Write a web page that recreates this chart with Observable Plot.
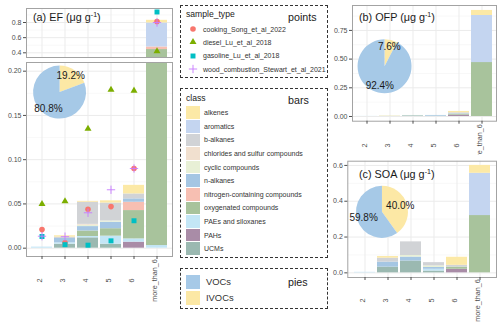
<!DOCTYPE html>
<html><head><meta charset="utf-8">
<script src="https://cdn.jsdelivr.net/npm/d3@7"></script>
<script src="https://cdn.jsdelivr.net/npm/@observablehq/plot@0.6"></script>
<style>
body{margin:0;background:#fff;font-family:"Liberation Sans",Arial,sans-serif;}
#root{position:relative;width:500px;height:326px;overflow:hidden;background:#fff;}
#root > svg, #root > div{position:absolute;}
.box{border:1px dashed #333;box-sizing:border-box;}
.t{position:absolute;white-space:nowrap;line-height:1;color:#1a1a1a;}
</style></head><body><div id="root"></div>
<script>
// ---------------- data ----------------
const categories = ["2","3","4","5","6","more_than_6"];
const classes = ["alkenes","aromatics","b-alkanes","chlorides and sulfur compounds","cyclic compounds","n-alkanes","nitrogen-containing compounds","oxygenated compounds","PAEs and siloxanes","PAHs","UCMs"];
const classColors = ["#fce9a6","#c4d5f0","#d1d3d6","#f1e0cf","#e8f0d6","#a5c6e3","#f7bfb2","#a8c39c","#c3e6f6","#a98ca7","#9bb9b1"];
const sampleTypes = ["cooking_Song_et_al_2022","diesel_Lu_et_al_2018","gasoline_Lu_et_al_2018","wood_combustion_Stewart_et_al_2021"];
const sampleColors = ["#F8766D","#7CAE00","#00BFC4","#C77CFF"];
const sampleSymbols = ["circle","triangle","square","plus"];

// EF points (µg g-1) by category
const efCooking  = [0.021, 0.006, 0.044, 0.047, 0.090, 0.813];
const efDiesel   = [0.050, 0.053, 0.135, 0.179, 0.178, 0.420];
const efGasoline = [0.0132,0.004, 0.0034,0.0083,0.031, 0.939];
const efWood     = [0.0135,0.013, 0.040, 0.066, 0.090, 0.800];

// stacked bars: rows = classes (same order as `classes`), columns = categories
const efBars = [
  [0,      0.0015, 0.001,  0.0025, 0.0097, 0.035],
  [0,      0,      0,      0,      0,      0.317],
  [0,      0.0015, 0.025,  0.0203, 0.0056, 0],
  [0,      0,      0.001,  0,      0,      0],
  [0,      0,      0.0015, 0.0014, 0,      0],
  [0,      0.005,  0.005,  0.0073, 0.0038, 0],
  [0,      0,      0,      0,      0.0094, 0.034],
  [0,      0,      0.0062, 0.0084, 0.032,  0.44],
  [0.0012, 0.0015, 0.0015, 0.0091, 0.0037, 0.003],
  [0,      0,      0,      0,      0.0068, 0],
  [0,      0.0045, 0.0117, 0.0045, 0,      0]
];
const ofpBars = [
  [0,     0.002, 0,     0,     0.012, 0.044],
  [0,     0,     0,     0,     0,     0.41],
  [0,     0,     0,     0,     0.008, 0],
  [0,     0,     0,     0,     0,     0],
  [0,     0.002, 0.001, 0,     0,     0],
  [0,     0,     0.002, 0.006, 0.004, 0],
  [0,     0,     0,     0,     0,     0],
  [0,     0,     0.002, 0.001, 0.008, 0.47],
  [0.001, 0,     0,     0.001, 0,     0],
  [0,     0,     0,     0,     0.012, 0],
  [0,     0.001, 0.004, 0.001, 0,     0]
];
const soaBars = [
  [0,     0.009, 0,     0,     0.045, 0.044],
  [0,     0,     0,     0,     0,     0.236],
  [0,     0.022, 0.076, 0.018, 0.010, 0],
  [0,     0,     0,     0,     0,     0],
  [0,     0,     0.009, 0.009, 0,     0],
  [0,     0.028, 0.022, 0.010, 0,     0],
  [0,     0,     0,     0,     0,     0],
  [0,     0,     0,     0,     0.012, 0.32],
  [0.003, 0,     0,     0.010, 0,     0],
  [0,     0,     0,     0,     0.020, 0],
  [0,     0.032, 0.066, 0.010, 0,     0]
];

// pies: [IVOCs, VOCs] percentages
const pieGroups = ["IVOCs","VOCs"];
const pieColors = ["#fce8a5","#a6c9e7"];
const efPie  = [19.2, 80.8];
const ofpPie = [7.6, 92.4];
const soaPie = [40.0, 59.8];

// axis ticks
const efTopTicks = [0.4, 0.6, 0.8];
const efTopMinor = [0.5, 0.7, 0.9];
const efBotTicks = [0, 0.05, 0.10, 0.15, 0.20];
const efBotMinor = [0.025, 0.075, 0.125, 0.175];
const ofpTicks = [0, 0.25, 0.5, 0.75];
const ofpMinor = [0.125, 0.375, 0.625, 0.875];
const soaTicks = [0, 0.2, 0.4, 0.6];
const soaMinor = [0.1, 0.3, 0.5];

// ---------------- helpers ----------------
const FONT = '"Liberation Sans", Arial, sans-serif';
const root = document.getElementById("root");

function barRows(matrix) {
  const out = [];
  for (let c = classes.length - 1; c >= 0; c--)
    categories.forEach((cat, j) => out.push({cat, cls: classes[c], value: matrix[c][j]}));
  return out;
}
function pointRows() {
  const series = [efCooking, efDiesel, efGasoline, efWood];
  return series.map((arr, s) => categories.map((cat, j) => ({cat, value: arr[j], s})));
}

function pieMark(values, fx, fy, r) {
  return (index, scales, vals, dims) => {
    const {width, height, marginLeft, marginRight, marginTop, marginBottom} = dims;
    const cx = marginLeft + fx * (width - marginLeft - marginRight);
    const cy = marginTop + fy * (height - marginTop - marginBottom);
    const g = d3.create("svg:g").attr("transform", `translate(${cx},${cy})`);
    const arcs = d3.pie().sort(null)(values);
    const arc = d3.arc().innerRadius(0).outerRadius(r);
    const lab = d3.arc().innerRadius(r * 0.74).outerRadius(r * 0.74);
    g.selectAll("path").data(arcs).join("path")
      .attr("d", arc).attr("fill", (d, i) => pieColors[i]);
    g.selectAll("text").data(arcs).join("text")
      .attr("transform", d => `translate(${lab.centroid(d)})`)
      .attr("text-anchor", "middle").attr("dy", "0.35em")
      .attr("font-size", 10).attr("fill", "#1a1a1a")
      .text(d => d.data.toFixed(1) + "%");
    return g.node();
  };
}

function panel(o) {
  const marks = [
    Plot.gridY(o.minor, {stroke: "#f3f3f3", strokeOpacity: 1, strokeWidth: 0.6}),
    Plot.gridY(o.ticks, {stroke: "#ebebeb", strokeOpacity: 1, strokeWidth: 1}),
    Plot.gridX({stroke: "#ebebeb", strokeOpacity: 1, strokeWidth: 1}),
    Plot.barY(barRows(o.bars), {x: "cat", y: "value", fill: "cls", clip: true})
  ];
  if (o.points) {
    pointRows().forEach((rows, s) => {
      const sym = sampleSymbols[s];
      const stroked = sym === "plus";
      marks.push(Plot.dot(rows, {
        x: "cat", y: "value", symbol: () => sym,
        r: sym === "triangle" ? 2.6 : 2.8,
        fill: stroked ? "none" : sampleColors[s],
        stroke: stroked ? sampleColors[s] : "none",
        strokeWidth: 0.9, clip: true
      }));
    });
  }
  if (o.pie) marks.push(pieMark(o.pie.values, o.pie.fx, o.pie.fy, o.pie.r));
  marks.push(Plot.frame({stroke: "#a3a3a3", strokeWidth: 1}));
  marks.push(Plot.axisY(o.ticks, {tickSize: 3, tickPadding: 2, fontSize: 7, tickFormat: d3.format(o.fmt), label: null}));
  if (o.showX) {
    marks.push(Plot.axisX({tickSize: 3, tickFormat: () => "", label: null}));
    marks.push(Plot.text(categories, {x: d => d, text: d => d, frameAnchor: "bottom", dy: o.labelDy,
      rotate: -90, textAnchor: "middle", fontSize: 7.2, fill: "#4d4d4d"}));
  }
  const svg = Plot.plot({
    width: o.width, height: o.height,
    marginLeft: o.ml, marginRight: o.mr, marginTop: o.mt, marginBottom: o.mb,
    x: {type: "band", domain: categories, paddingInner: 0.1, paddingOuter: 0.15, axis: o.showX ? undefined : null},
    y: {domain: o.yDomain, axis: undefined},
    color: {domain: classes, range: classColors},
    style: {fontFamily: FONT, color: "#4d4d4d", background: "transparent", overflow: "hidden"},
    marks
  });
  svg.style.left = o.left + "px";
  svg.style.top = o.top + "px";
  root.appendChild(svg);
}

// ---------------- panels ----------------
panel({left: 0, top: 0, width: 175, height: 60, ml: 26, mr: 3, mt: 8, mb: 3,
  yDomain: [0.338, 0.985], ticks: efTopTicks, minor: efTopMinor, fmt: ".1f",
  bars: efBars, points: true, showX: false});
panel({left: 0, top: 60, width: 175, height: 250, ml: 26, mr: 3, mt: 2, mb: 54,
  yDomain: [-0.0094, 0.2098], ticks: efBotTicks, minor: efBotMinor, fmt: ".2f",
  bars: efBars, points: true, showX: true, labelDy: 24,
  pie: {values: efPie, fx: 0.23, fy: 0.155, r: 26.5}});
panel({left: 330, top: 0, width: 170, height: 155, ml: 22, mr: 4, mt: 5, mb: 34.3,
  yDomain: [-0.041, 0.967], ticks: ofpTicks, minor: ofpMinor, fmt: ".2f",
  bars: ofpBars, points: false, showX: true, labelDy: 24.3,
  pie: {values: ofpPie, fx: 0.226, fy: 0.53, r: 27}});
panel({left: 330, top: 155, width: 170, height: 171, ml: 17.3, mr: 4, mt: 5.7, mb: 49,
  yDomain: [-0.026, 0.6235], ticks: soaTicks, minor: soaMinor, fmt: ".1f",
  bars: soaBars, points: false, showX: true, labelDy: 23,
  pie: {values: soaPie, fx: 0.233, fy: 0.44, r: 26}});

// ---------------- titles ----------------
function addText(html, left, cy, size, extra) {
  const d = document.createElement("div");
  d.className = "t";
  d.innerHTML = html;
  d.style.left = left + "px";
  d.style.top = (cy - size / 2) + "px";
  d.style.fontSize = size + "px";
  if (extra) Object.assign(d.style, extra);
  root.appendChild(d);
  return d;
}
const sup = '<sup style="font-size:0.65em;vertical-align:0.55em;line-height:0">-1</sup>';
addText(`(a) EF (μg g${sup})`, 33, 17, 10.8);
addText(`(b) OFP (μg g${sup})`, 359, 17, 10.8);
addText(`(c) SOA (μg g${sup})`, 359, 174.5, 10.8);

// ---------------- legends ----------------
function box(left, top, w, h) {
  const d = document.createElement("div");
  d.className = "box";
  Object.assign(d.style, {left: left + "px", top: top + "px", width: w + "px", height: h + "px"});
  root.appendChild(d);
}
// points legend
box(180, 5, 148, 73);
addText("sample_type", 186, 14, 8.6);
addText("points", 288, 17.5, 10.7);
sampleTypes.forEach((name, i) => {
  const cy = 29 + i * 13.45;
  const s = d3.create("svg").attr("width", 12).attr("height", 12)
    .style("left", (193 - 6) + "px").style("top", (cy - 6) + "px");
  const sym = {circle: d3.symbolCircle, triangle: d3.symbolTriangle, square: d3.symbolSquare, plus: d3.symbolPlus}[sampleSymbols[i]];
  const r = sampleSymbols[i] === "triangle" ? 2.6 : 2.8;
  const p = s.append("path").attr("transform", "translate(6,6)")
    .attr("d", d3.symbol(sym, Math.PI * r * r)());
  if (sampleSymbols[i] === "plus") p.attr("fill", "none").attr("stroke", sampleColors[i]).attr("stroke-width", 0.9);
  else p.attr("fill", sampleColors[i]);
  root.appendChild(s.node());
  addText(name, 203, cy, 7, {color: "#333"});
});
// bars legend
box(180, 88, 148, 170);
addText("class", 186, 98, 8.6);
addText("bars", 288, 100.5, 10.7);
classes.forEach((name, i) => {
  const cy = 112.7 + i * 13.6;
  const k = document.createElement("div");
  Object.assign(k.style, {left: "186px", top: (cy - 6.3) + "px", width: "14px", height: "12.6px", background: classColors[i]});
  root.appendChild(k);
  addText(name, 204, cy, 7, {color: "#333"});
});
// pies legend
box(180, 268, 148, 40.5);
addText("pies", 288, 282, 10.7);
["VOCs","IVOCs"].forEach((name, i) => {
  const cy = 281.7 + i * 16;
  const k = document.createElement("div");
  Object.assign(k.style, {left: "186px", top: (cy - 7) + "px", width: "14px", height: "14px",
    background: pieColors[pieGroups.indexOf(name)]});
  root.appendChild(k);
  addText(name, 206, cy, 9.4, {color: "#333"});
});
</script></body></html>
